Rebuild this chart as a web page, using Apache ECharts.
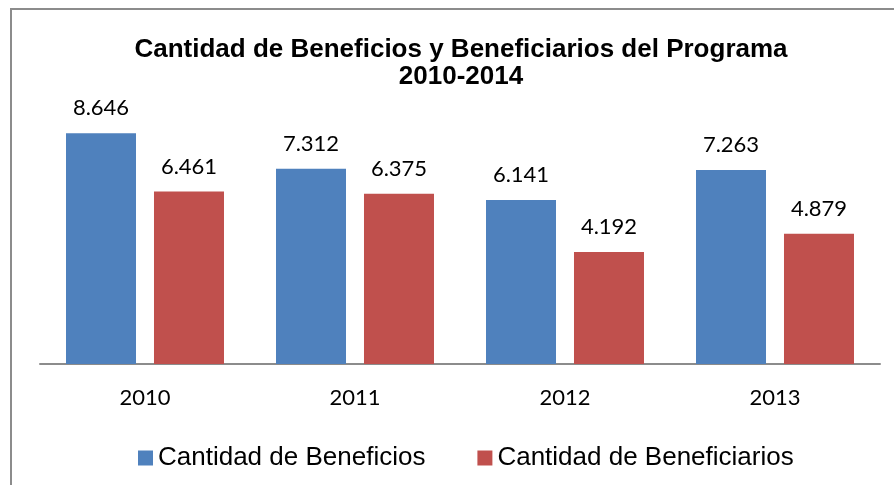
<!DOCTYPE html>
<html>
<head>
<meta charset="utf-8">
<title>Cantidad de Beneficios y Beneficiarios del Programa</title>
<script src="https://cdn.jsdelivr.net/npm/echarts@6/dist/echarts.min.js"></script>
<style>
  html, body { margin: 0; padding: 0; background: #ffffff; }
  #chart { width: 894px; height: 485px; }
</style>
</head>
<body>
<div id="chart"></div>
<script>
// Data
const years = ["2010", "2011", "2012", "2013"];
const beneficios = [8646, 7312, 6141, 7263];
const beneficiarios = [6461, 6375, 4192, 4879];
const seriesNames = ["Cantidad de Beneficios", "Cantidad de Beneficiarios"];

const chart = echarts.init(document.getElementById("chart"));

// Values use a dot as thousands separator (es locale)
const formatValue = (v) => {
  const s = String(v);
  return s.length > 3 ? s.slice(0, -3) + "." + s.slice(-3) : s;
};

const labelStyle = {
  show: true,
  position: "top",
  distance: 14,
  color: "#000000",
  fontFamily: "Lato",
  fontSize: 22,
  formatter: (p) => formatValue(p.value),
};

chart.setOption({
  animation: false,
  color: ["#4F81BD", "#C0504D"],
  title: {
    text: "Cantidad de Beneficios y Beneficiarios del Programa\n2010-2014",
    left: 456,
    top: 31,
    textAlign: "center",
    textStyle: {
      fontFamily: "Liberation Sans",
      fontWeight: "bold",
      fontSize: 26,
      lineHeight: 27,
      color: "#000000",
    },
  },
  legend: {
    data: seriesNames,
    left: 133,
    top: 440,
    icon: "rect",
    itemWidth: 15,
    itemHeight: 15,
    itemGap: 52,
    textStyle: {
      fontFamily: "Liberation Sans",
      fontSize: 26,
      color: "#000000",
    },
  },
  grid: {
    left: 40,
    right: 14,
    top: 97,
    bottom: 121,
  },
  xAxis: {
    type: "category",
    data: years,
    axisLine: { lineStyle: { color: "#8C8C8C", width: 2 } },
    axisTick: { show: false },
    axisLabel: {
      margin: 23,
      color: "#000000",
      fontFamily: "Lato",
      fontSize: 22,
    },
  },
  yAxis: {
    type: "value",
    min: 0,
    max: 10000,
    show: false,
    splitLine: { show: false },
  },
  series: [
    {
      name: seriesNames[0],
      type: "bar",
      data: beneficios,
      barWidth: 70,
      barGap: "25.7%",
      label: labelStyle,
    },
    {
      name: seriesNames[1],
      type: "bar",
      data: beneficiarios,
      barWidth: 70,
      barGap: "25.7%",
      label: labelStyle,
    },
  ],
  // Outer chart frame, cropped on the right and bottom
  graphic: [
    {
      type: "line",
      shape: { x1: 10, y1: 9, x2: 894, y2: 9 },
      style: { stroke: "#8C8C8C", lineWidth: 2 },
    },
    {
      type: "line",
      shape: { x1: 11, y1: 8, x2: 11, y2: 485 },
      style: { stroke: "#8C8C8C", lineWidth: 2 },
    },
  ],
});
</script>
</body>
</html>
